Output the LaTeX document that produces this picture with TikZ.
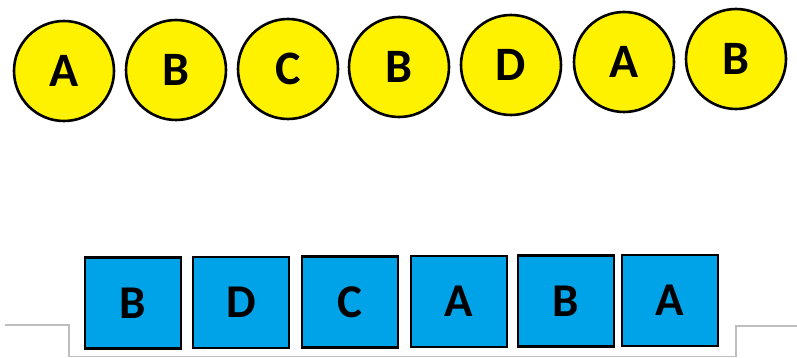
\documentclass[tikz,border=0pt]{standalone}
\usepackage{fontspec}
\setmainfont{Carlito}
\definecolor{ballyellow}{RGB}{255,242,0}
\definecolor{boxblue}{RGB}{0,162,232}
\definecolor{railgray}{RGB}{190,190,190}
\begin{document}
\begin{tikzpicture}[x=1pt,y=-1pt,
  ball/.style={circle,draw=black,line width=2.6pt,fill=ballyellow,minimum size=100pt,inner sep=0pt,font=\fontsize{48}{48}\selectfont\bfseries},
  crate/.style={rectangle,draw=black,line width=2.6pt,fill=boxblue,minimum width=96pt,minimum height=91pt,inner sep=0pt,font=\fontsize{47}{47}\selectfont\bfseries},
  rail/.style={draw=railgray,line width=1.4pt}]
\useasboundingbox (0,0) rectangle (797,358);
% queue of circles
\node[ball] (c1) at (64,71) {A};
\node[ball] (c2) at (176,70) {B};
\node[ball] (c3) at (288,69) {C};
\node[ball] (c4) at (399,67) {B};
\node[ball] (c5) at (511,65) {D};
\node[ball] (c6) at (624,62) {A};
\node[ball] (c7) at (736,59) {B};
% row of squares
\node[crate] (s1) at (133,303) {B};
\node[crate] (s2) at (241,302.5) {D};
\node[crate] (s3) at (350,302) {C};
\node[crate] (s4) at (459,301.5) {A};
\node[crate] (s5) at (566,301) {B};
\node[crate] (s6) at (670,300.5) {A};
% shelf outline
\coordinate (l0) at (5,325);
\coordinate (l1) at (69,325);
\coordinate (l2) at (69,356.5);
\coordinate (r2) at (736,356.5);
\coordinate (r1) at (736,326);
\coordinate (r0) at (797,326);
\draw[rail] (l0) -- (l1) -- (l2) -- (r2) -- (r1) -- (r0);
\end{tikzpicture}
\end{document}
